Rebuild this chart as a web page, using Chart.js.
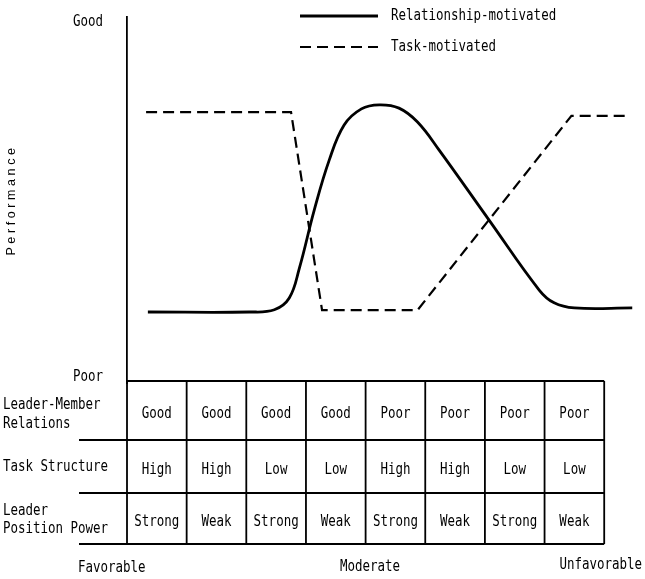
<!DOCTYPE html>
<html>
<head>
<meta charset="utf-8">
<script src="https://cdn.jsdelivr.net/npm/chart.js@4.4.1/dist/chart.umd.min.js"></script>
<style>
  html, body { margin: 0; padding: 0; background: #fff; }
  #wrap { width: 645px; height: 579px; position: relative; }
</style>
</head>
<body>
<div id="wrap"><canvas id="fiedler"></canvas></div>
<script>
// ===== Data =====
// x = situation favourability (0 = left edge of octant I, 8 = right edge of octant VIII)
// y = performance (0 = Poor, 10 = Good)
const relX = [0.35, 2.05, 2.47, 2.72, 2.89, 3.14, 3.39, 3.64, 3.93, 4.23, 4.56, 4.87, 5.23, 6.07, 6.91, 7.16, 7.50, 8.47];
const relY = [1.94, 1.94, 2.00, 2.32, 3.14, 4.73, 6.09, 7.05, 7.49, 7.60, 7.51, 7.13, 6.37, 4.45, 2.54, 2.19, 2.05, 2.05];

const taskX = [0.32, 2.75, 3.27, 4.87, 7.45, 8.39];
const taskY = [7.40, 7.40, 1.99, 1.99, 7.30, 7.30];

const seriesNames = ["Relationship-motivated", "Task-motivated"];

// y tick labels
const perfTicks = [0.16, 9.86];
const perfLabels = ["Poor", "Good"];

// table under the chart
const rowLabels = [["Leader-Member", "Relations"], ["Task Structure"], ["Leader", "Position Power"]];
const leaderMember = ["Good", "Good", "Good", "Good", "Poor", "Poor", "Poor", "Poor"];
const taskStructure = ["High", "High", "Low", "Low", "High", "High", "Low", "Low"];
const positionPower = ["Strong", "Weak", "Strong", "Weak", "Strong", "Weak", "Strong", "Weak"];
const favorLabels = ["Favorable", "Moderate", "Unfavorable"];

const MONO = "'DejaVu Sans Mono', monospace";

const pts = (xs, ys) => xs.map((x, i) => ({ x: x, y: ys[i] }));

// typewriter-ish text: tall glyphs
function tw(ctx, s, x, y, align) {
    ctx.save();
    ctx.translate(x, y);
    ctx.scale(0.99, 1.3);
    ctx.textAlign = align || "left";
    ctx.textBaseline = "middle";
    ctx.fillText(s, 0, 0);
    ctx.restore();
}

// ===== Plugin: legend, axis texts and the table =====
const extras = {
    id: "extras",
    afterDraw(chart) {
        const ctx = chart.ctx;
        const xs = chart.scales.x;
        const ys = chart.scales.y;
        const sets = chart.data.datasets;
        ctx.save();
        ctx.fillStyle = "#000";
        ctx.strokeStyle = "#000";
        ctx.font = "12.6px " + MONO;

        // legend
        const legY = [16, 47];
        sets.forEach((ds, i) => {
            ctx.lineWidth = ds.borderWidth;
            ctx.setLineDash(ds.borderDash || []);
            ctx.beginPath();
            ctx.moveTo(300, legY[i]);
            ctx.lineTo(378, legY[i]);
            ctx.stroke();
            ctx.setLineDash([]);
            tw(ctx, ds.label, 391, legY[i]);
        });

        // Good / Poor
        perfTicks.forEach((v, i) => tw(ctx, perfLabels[i], 103, ys.getPixelForValue(v), "right"));

        // y title
        ctx.save();
        ctx.translate(12, 200);
        ctx.rotate(-Math.PI / 2);
        ctx.font = "12.5px 'Liberation Sans', sans-serif";
        ctx.letterSpacing = "3.6px";
        ctx.textAlign = "center";
        ctx.textBaseline = "middle";
        ctx.fillText("Performance", 0, 0);
        ctx.restore();

        // table
        const rowsY = [381, 440, 493, 544];
        const colX = [];
        for (let i = 0; i <= leaderMember.length; i++) colX.push(xs.getPixelForValue(i));
        const right = colX[colX.length - 1];

        ctx.lineWidth = 1.8;
        ctx.beginPath();
        ctx.moveTo(colX[0], rowsY[0]);
        ctx.lineTo(right, rowsY[0]);
        for (let r = 1; r < rowsY.length; r++) {
            ctx.moveTo(79, rowsY[r]);
            ctx.lineTo(right, rowsY[r]);
        }
        colX.forEach(x => {
            ctx.moveTo(x, rowsY[0]);
            ctx.lineTo(x, rowsY[3]);
        });
        ctx.stroke();

        [leaderMember, taskStructure, positionPower].forEach((row, r) => {
            const cy = (rowsY[r] + rowsY[r + 1]) / 2 + 3;
            row.forEach((txt, c) => {
                tw(ctx, txt, (colX[c] + colX[c + 1]) / 2, cy, "center");
            });
        });

        // row labels
        const labY = [[405, 424], [467], [511, 529]];
        rowLabels.forEach((lines, r) => {
            lines.forEach((t, k) => tw(ctx, t, 3, labY[r][k]));
        });

        // favourability scale
        tw(ctx, favorLabels[0], 78, 568);
        tw(ctx, favorLabels[1], 370, 567, "center");
        tw(ctx, favorLabels[2], 642, 565, "right");

        ctx.restore();
    }
};

new Chart(document.getElementById("fiedler"), {
    type: "line",
    data: {
        datasets: [{
            label: seriesNames[0],
            data: pts(relX, relY),
            borderColor: "#000",
            borderWidth: 2.8,
            pointRadius: 0,
            tension: 0.4,
            fill: false
        }, {
            label: seriesNames[1],
            data: pts(taskX, taskY),
            borderColor: "#000",
            borderWidth: 2.2,
            borderDash: [11, 6],
            pointRadius: 0,
            tension: 0,
            fill: false
        }]
    },
    options: {
        responsive: true,
        maintainAspectRatio: false,
        animation: false,
        layout: { padding: { top: 17, right: 5, bottom: 196, left: 0 } },
        plugins: {
            legend: { display: false },
            tooltip: { enabled: false }
        },
        scales: {
            x: {
                type: "linear",
                min: 0,
                max: 8.6,
                display: false
            },
            y: {
                min: 0,
                max: 10,
                grid: { display: false, drawTicks: false },
                border: { display: true, color: "#000", width: 1.8 },
                ticks: { display: false },
                afterFit(s) {
                    s.width = 127;
                    s.paddingTop = 0;
                    s.paddingBottom = 0;
                }
            }
        }
    },
    plugins: [extras]
});
</script>
</body>
</html>
